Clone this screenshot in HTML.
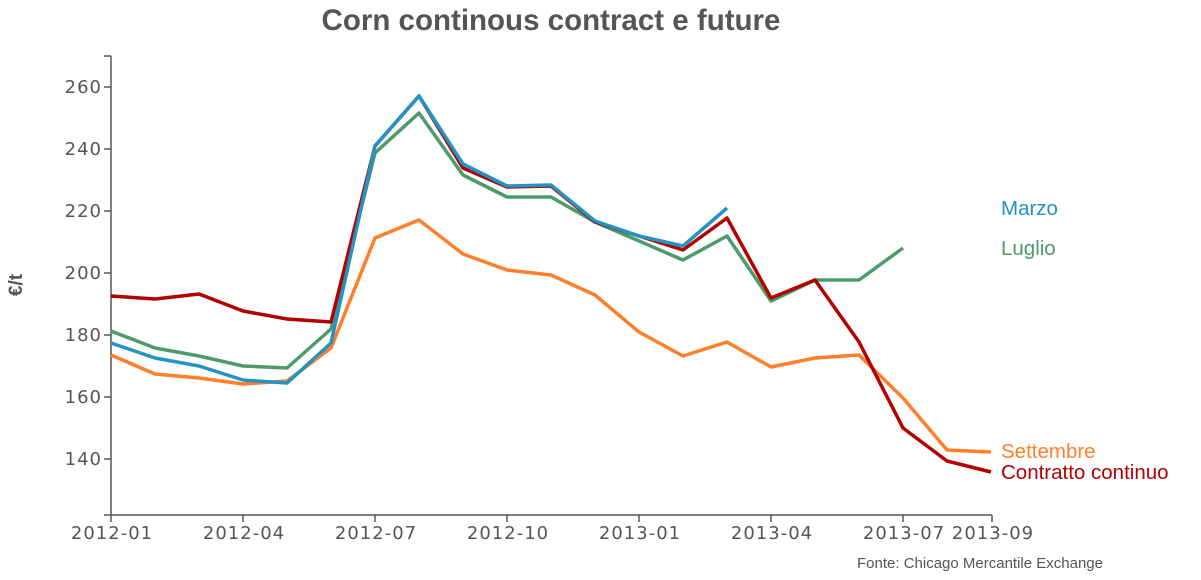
<!DOCTYPE html><html><head><meta charset="utf-8"><style>body{margin:0;background:#fff}svg{display:block}</style></head><body>
<svg width="1201" height="580" xmlns="http://www.w3.org/2000/svg">
<text x="551" y="30" text-anchor="middle" font-family="Liberation Sans, sans-serif" font-weight="bold" font-size="29.5" fill="#555">Corn continous contract e future</text>
<g stroke="#555" stroke-width="1.5" fill="none">
<line x1="111" y1="56" x2="111" y2="515"/><line x1="111" y1="515" x2="992" y2="515"/>
<line x1="104" y1="56" x2="111" y2="56"/><line x1="104" y1="87" x2="111" y2="87"/><line x1="104" y1="149" x2="111" y2="149"/><line x1="104" y1="211" x2="111" y2="211"/><line x1="104" y1="273" x2="111" y2="273"/><line x1="104" y1="335" x2="111" y2="335"/><line x1="104" y1="397" x2="111" y2="397"/><line x1="104" y1="459" x2="111" y2="459"/><line x1="104" y1="515" x2="111" y2="515"/>
<line x1="111" y1="515" x2="111" y2="522"/><line x1="243" y1="515" x2="243" y2="522"/><line x1="375" y1="515" x2="375" y2="522"/><line x1="507" y1="515" x2="507" y2="522"/><line x1="639" y1="515" x2="639" y2="522"/><line x1="771" y1="515" x2="771" y2="522"/><line x1="903" y1="515" x2="903" y2="522"/><line x1="992" y1="515" x2="992" y2="522"/>
</g>
<g font-family="DejaVu Sans, sans-serif" font-size="18" letter-spacing="1" fill="#555" text-anchor="end">
<text x="102" y="93">260</text><text x="102" y="155">240</text><text x="102" y="217">220</text><text x="102" y="279">200</text><text x="102" y="341">180</text><text x="102" y="403">160</text><text x="102" y="465">140</text>
</g>
<g font-family="DejaVu Sans, sans-serif" font-size="18" letter-spacing="1" fill="#555" text-anchor="middle">
<text x="112" y="539">2012-01</text><text x="244" y="539">2012-04</text><text x="376" y="539">2012-07</text><text x="508" y="539">2012-10</text><text x="640" y="539">2013-01</text><text x="772" y="539">2013-04</text><text x="904" y="539">2013-07</text><text x="993" y="539">2013-09</text>
</g>
<text transform="translate(22,285) rotate(-90)" text-anchor="middle" font-family="Liberation Sans, sans-serif" font-weight="bold" font-size="19" fill="#555">€/t</text>
<g fill="none" stroke-width="3.5" stroke-linejoin="round">
<polyline stroke="#ff7f2a" points="111,355 155,374 199,378 243,384 287,381 331,348 375,238 419,220 463,254 507,270 551,275 595,295 639,332 683,356 727,342 771,367 815,358 859,355 903,398 947,450 991,452"/>
<polyline stroke="#4d9a6a" points="111,331 155,348 199,356 243,366 287,368 331,329 375,153 419,113 463,175 507,197 551,197 595,222 639,241 683,260 727,236 771,301 815,280 859,280 903,248"/>
<polyline stroke="#b30000" points="111,296 155,299 199,294 243,311 287,319 331,322 375,146 419,96 463,168 507,187 551,186 595,222 639,236 683,250 727,218 771,298 815,280 859,342 903,428 947,461 991,472"/>
<polyline stroke="#2393c3" points="111,343 155,358 199,366 243,380 287,383 331,343 375,146 419,96 463,164 507,186 551,185 595,221 639,236 683,246 727,208"/>
</g>
<g font-family="Liberation Sans, sans-serif" font-size="20.5">
<text x="1001" y="215" fill="#2393c3">Marzo</text>
<text x="1001" y="255" fill="#4d9a6a">Luglio</text>
<text x="1001" y="458" fill="#ff7f2a">Settembre</text>
<text x="1001" y="479" fill="#b30000">Contratto continuo</text>
</g>
<text x="1103" y="568" text-anchor="end" font-family="Liberation Sans, sans-serif" font-size="15" fill="#555">Fonte: Chicago Mercantile Exchange</text>
</svg></body></html>
